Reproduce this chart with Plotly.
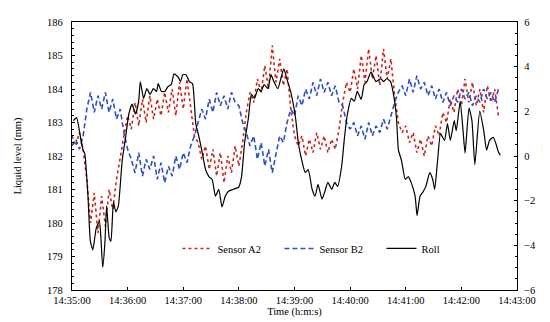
import plotly.graph_objects as go

# Time axis (seconds after 14:35:00)
x_tick_vals = [0, 60, 120, 180, 240, 300, 360, 420, 480]
x_tick_text = ["14:35:00", "14:36:00", "14:37:00", "14:38:00", "14:39:00",
               "14:40:00", "14:41:00", "14:42:00", "14:43:00"]

# Sensor sample times (s)
sensor_t = list(range(0, 464, 4))

sensor_a2 = [182.6, 182.3, 182.7, 182.2, 181.3, 180.0, 180.9, 179.7, 180.8, 179.9,
             181.0, 180.4, 181.3, 182.0, 182.6, 183.2, 182.8, 183.6, 182.9, 183.7,
             183.0, 183.8, 183.1, 183.7, 183.2, 183.9, 183.3, 184.0, 183.2, 184.2,
             183.4, 184.3, 183.5, 182.6, 182.4, 181.9, 182.3, 181.6, 182.2, 181.4,
             182.1, 181.2, 182.0, 181.5, 182.3, 181.7, 182.4, 183.3, 183.9, 183.6,
             184.3, 183.9, 184.7, 184.0, 185.3, 184.2, 184.9, 184.1, 184.6, 183.4,
             182.6, 182.3, 182.6, 182.0, 182.5, 182.1, 182.7, 182.2, 182.6, 182.1,
             182.5, 182.2, 182.8, 183.6, 184.2, 183.9, 184.6, 184.0, 185.0, 184.2,
             185.2, 184.3, 185.0, 184.1, 185.2, 184.3, 184.9, 183.8, 183.0, 182.7,
             182.9, 182.4, 182.7, 182.1, 182.5, 182.0, 182.6, 182.3, 182.9, 182.6,
             183.3, 183.0, 183.7, 183.3, 184.0, 183.5, 184.3, 183.6, 184.2, 183.5,
             184.0, 183.3, 184.1, 183.6, 184.0, 183.2]

sensor_b2 = [182.3, 182.5, 182.2, 182.6, 183.4, 183.9, 183.3, 183.8, 183.4, 183.9,
             183.3, 183.7, 183.1, 183.4, 182.7, 182.2, 181.9, 181.5, 182.1, 181.4,
             181.9, 181.6, 182.0, 181.3, 181.8, 181.2, 181.7, 181.4, 182.0, 181.6,
             182.1, 181.8, 182.3, 182.6, 183.0, 183.4, 183.1, 183.7, 183.3, 183.9,
             183.5, 183.8, 183.4, 183.9, 183.6, 183.5, 183.0, 182.7, 182.3, 182.6,
             181.9, 182.4, 181.7, 182.2, 181.5, 182.1, 182.6, 182.4, 183.0, 183.4,
             183.2, 183.8, 183.5, 184.0, 183.7, 184.2, 183.8, 184.3, 183.9, 184.2,
             183.8, 184.1, 183.6, 183.5, 183.0, 182.8, 183.0, 182.6, 182.9, 182.5,
             183.0, 182.6, 182.9, 182.7, 183.1, 182.8, 183.2, 183.6, 183.9, 184.1,
             183.8, 184.3, 183.9, 184.4, 184.0, 184.2, 183.8, 184.1, 183.7, 184.0,
             183.6, 183.9, 183.5, 183.8, 183.6, 184.0, 183.7, 183.9, 183.5, 183.8,
             183.6, 184.0, 183.7, 183.9, 183.6, 184.0]

roll_t = [1.4, 5, 8.5, 12, 13.7, 17.2, 19.8, 22.5, 26.1, 29.6, 31.4, 33.1, 35.6, 37.3,
          40.2, 42, 44.7, 47.3, 50, 54.2, 57.8, 61.3, 64.8, 68.4, 71.9, 73.7, 77.2,
          80.7, 84.3, 87.8, 91.2, 93, 96.5, 100.1, 103.6, 107.1, 110, 114.2, 117,
          119.5, 123, 126.6, 130, 133.5, 137.1, 140.6, 144.1, 147.7, 151.2, 154.7,
          158.3, 161.8, 165.3, 168.8, 174.1, 179.7, 182.9, 186.1, 190.3, 193.5,
          196.7, 200.9, 204, 207.2, 211.4, 214.6, 217.8, 222, 225.2, 228.4, 232.6,
          235.8, 241.1, 244.2, 248.5, 251.6, 254.8, 259, 262.2, 265.4, 269.6, 272.8,
          276, 280.2, 283.4, 286.5, 290.8, 293.9, 297.1, 301.3, 304.5, 307.7, 311.9,
          315.1, 318.2, 322.5, 327.8, 333, 336.2, 339.4, 343.6, 346.8, 350, 352.1,
          355.3, 359.5, 362.7, 365.8, 370.1, 372.2, 375.4, 378.5, 381.7, 385.9,
          389.1, 391.2, 394.4, 397.5, 401.8, 405, 408.1, 412.3, 414.5, 418.7, 421.8,
          424, 428.2, 431.4, 434.5, 439.8, 444.1, 447.2, 450.4, 454.6, 457.8, 459.9,
          462]

roll_deg = [1.58, 1.72, 1.0, 0.26, 0.13, -1.78, -3.81, -4.2, -3.24, -2.93, -3.81, -4.99,
            -3.81, -2.23, -3.68, -3.81, -2.06, -2.5, -2.23, -0.18, 0.83, 1.88, 2.32,
            1.88, 2.45, 3.33, 2.58, 3.02, 2.76, 3.02, 2.89, 3.24, 2.89, 2.89, 3.11,
            3.2, 3.68, 3.55, 3.33, 3.64, 3.64, 3.33, 3.24, 1.45, 0.83, 0.13, -0.61,
            -0.92, -1.05, -1.8, -1.49, -2.28, -1.8, -1.58, -1.49, -1.40, -0.92, 0.57,
            1.71, 2.76, 2.58, 3.02, 2.89, 3.2, 3.02, 3.64, 3.33, 3.02, 3.46, 3.9,
            3.33, 2.89, 1.71, 0.57, -0.31, -0.74, -0.61, -1.49, -1.8, -1.27, -1.93,
            -1.58, -1.18, -1.49, -1.18, -1.36, -0.48, 0.83, 1.88, 2.58, 2.45, 2.89,
            2.54, 3.2, 3.33, 3.77, 3.33, 3.46, 3.33, 3.46, 3.33, 2.76, 1.71, 0.26,
            -0.18, -1.05, -0.92, -1.18, -1.8, -2.67, -1.8, -1.62, -1.36, -0.74, -1.05,
            -1.49, -0.18, 1.0, 0.7, 1.45, 0.7, 1.58, 1.14, 2.45, 1.14, 0.13, 2.15,
            1.58, -0.39, 2.01, 1.14, 0.26, 0.7, 0.83, 0.48, 0.18, 0.04]

FONT = "Liberation Serif, Times New Roman, serif"

fig = go.Figure()
fig.add_trace(go.Scatter(x=sensor_t, y=sensor_a2, name="Sensor A2", mode="lines",
                         line=dict(color="#c8281e", width=1.6, dash="dot")))
fig.add_trace(go.Scatter(x=sensor_t, y=sensor_b2, name="Sensor B2", mode="lines",
                         line=dict(color="#2f4fc4", width=1.6, dash="5px,3px")))
fig.add_trace(go.Scatter(x=roll_t, y=roll_deg, name="Roll", mode="lines", yaxis="y2",
                         line=dict(color="black", width=1.2, shape="spline", smoothing=0.5)))

axis_common = dict(showline=True, linecolor="black", linewidth=1.2, ticks="inside",
                   ticklen=3, tickcolor="black", showgrid=False, zeroline=False,
                   tickfont=dict(family=FONT, size=10.5, color="black"))

fig.update_layout(
    width=550, height=322,
    margin=dict(l=57, r=39, t=9, b=40),
    paper_bgcolor="white", plot_bgcolor="white",
    font=dict(family=FONT, size=10.5, color="black"),
    showlegend=True,
    legend=dict(orientation="h", x=0.237, y=0.155, xanchor="left", yanchor="middle",
                bgcolor="rgba(0,0,0,0)", font=dict(family=FONT, size=10.5),
                entrywidth=57, entrywidthmode="pixels"),
    xaxis=dict(range=[0, 480], tickvals=x_tick_vals, ticktext=x_tick_text,
               mirror=True, title=dict(text="Time (h:m:s)", standoff=2,
                                       font=dict(family=FONT, size=10.5)),
               **axis_common),
    yaxis=dict(range=[178, 186], dtick=1, tick0=178, ticklabelstandoff=6,
               minor=dict(ticks="inside", ticklen=2, dtick=0.2, tickcolor="black"),
               title=dict(text="Liquid level (mm)", standoff=23,
                          font=dict(family=FONT, size=10.5)),
               **axis_common),
    yaxis2=dict(range=[-6, 6], dtick=2, tick0=-6, overlaying="y", side="right",
                ticklabelstandoff=4,
                minor=dict(ticks="inside", ticklen=2, dtick=0.5, tickcolor="black"),
                title=dict(text="Angle (deg)", standoff=6,
                           font=dict(family=FONT, size=10.5)),
                **axis_common),
)

fig.write_html("out.html")
